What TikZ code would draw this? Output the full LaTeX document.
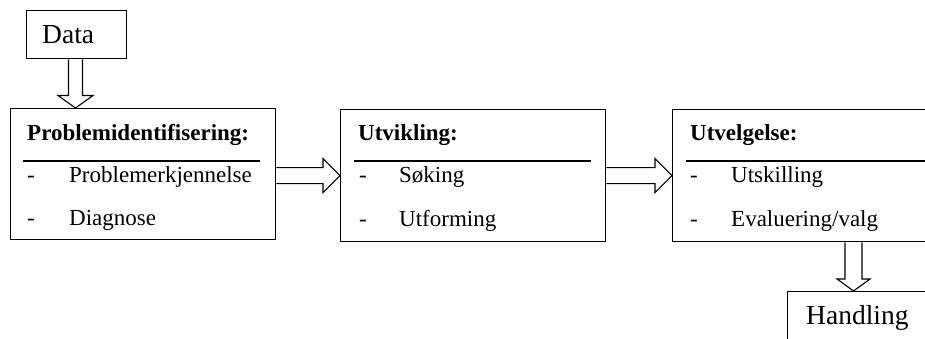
\documentclass[tikz,border=0pt]{standalone}
\usepackage{fontspec}
\setmainfont{Liberation Serif}
\usetikzlibrary{calc}
\begin{document}
\begin{tikzpicture}[x=1pt,y=-1pt,
  box/.style={draw,line width=1.3pt,rectangle,inner sep=0pt,anchor=north west},
  sep/.style={line width=2pt},
  txt/.style={anchor=base west,inner sep=0pt,font=\fontsize{23}{27}\selectfont},
  head/.style={txt,font=\fontsize{23}{27}\selectfont\bfseries},
  big/.style={anchor=base west,inner sep=0pt,font=\fontsize{27.5}{32}\selectfont},
  blockarrow/.style={draw,line width=1.1pt,fill=white,line join=miter}]
\clip (0,0) rectangle (925,338);

% input and output boxes
\node[box,minimum width=100pt,minimum height=48pt] (data) at (26,10) {};
\node[big] (datat) at (42,43) {Data};
\node[box,minimum width=200pt,minimum height=80pt] (hand) at (787,291) {};
\node[big] (handt) at (806,324) {Handling};

% the three phase boxes
\node[box,minimum width=265pt,minimum height=131pt] (b1) at (10,108) {};
\node[box,minimum width=265pt,minimum height=132pt] (b2) at (340,109) {};
\node[box,minimum width=300pt,minimum height=132pt] (b3) at (672,109) {};

% box contents: heading, rule, two items
\node[head] (h1) at (27,140) {Problemidentifisering:};
\draw[sep] (23,161) -- (260,161);
\node[txt] (d11) at (27,182) {-};
\node[txt] (i11) at (69,182) {Problemerkjennelse};
\node[txt] (d12) at (27,225) {-};
\node[txt] (i12) at (69,225) {Diagnose};

\node[head] (h2) at (358,140) {Utvikling:};
\draw[sep] (354,161) -- (591,161);
\node[txt] (d21) at (359,182) {-};
\node[txt] (i21) at (399,182) {Søking};
\node[txt] (d22) at (359,226) {-};
\node[txt] (i22) at (399,226) {Utforming};

\node[head] (h3) at (690,140) {Utvelgelse:};
\draw[sep] (686,161) -- (940,161);
\node[txt] (d31) at (690,182) {-};
\node[txt] (i31) at (731,182) {Utskilling};
\node[txt] (d32) at (690,226) {-};
\node[txt] (i32) at (731,226) {Evaluering/valg};

% block arrows
\coordinate (dx) at (75.5,0);
\coordinate (hx) at (853.5,0);
% Data -> Problemidentifisering (down)
\draw[blockarrow] let \p1=(dx |- data.south), \p2=(dx |- b1.north) in
  (\x1-7,\y1) -- (\x1-7,\y2+12.5) -- (\x1-17.5,\y2+12.5) -- (\x2,\y2)
  -- (\x1+17.5,\y2+12.5) -- (\x1+7,\y2+12.5) -- (\x1+7,\y1);
% Utvelgelse -> Handling (down)
\draw[blockarrow] let \p1=(hx |- b3.south), \p2=(hx |- hand.north) in
  (\x1-8.5,\y1) -- (\x1-8.5,\y2+12) -- (\x1-16.5,\y2+12) -- (\x2,\y2)
  -- (\x1+16.5,\y2+12) -- (\x1+8.5,\y2+12) -- (\x1+8.5,\y1);
% Problemidentifisering -> Utvikling
\draw[blockarrow] let \p1=(b1.east), \p2=(b2.west) in
  (\x1,\y2+8) -- (\x2-17,\y2+8) -- (\x2-17,\y2+17) -- (\x2,\y2)
  -- (\x2-17,\y2-17) -- (\x2-17,\y2-8) -- (\x1,\y2-8);
% Utvikling -> Utvelgelse
\draw[blockarrow] let \p1=(b2.east), \p2=(b3.west) in
  (\x1,\y2+8) -- (\x2-17,\y2+8) -- (\x2-17,\y2+17) -- (\x2,\y2)
  -- (\x2-17,\y2-17) -- (\x2-17,\y2-8) -- (\x1,\y2-8);
\end{tikzpicture}
\end{document}
